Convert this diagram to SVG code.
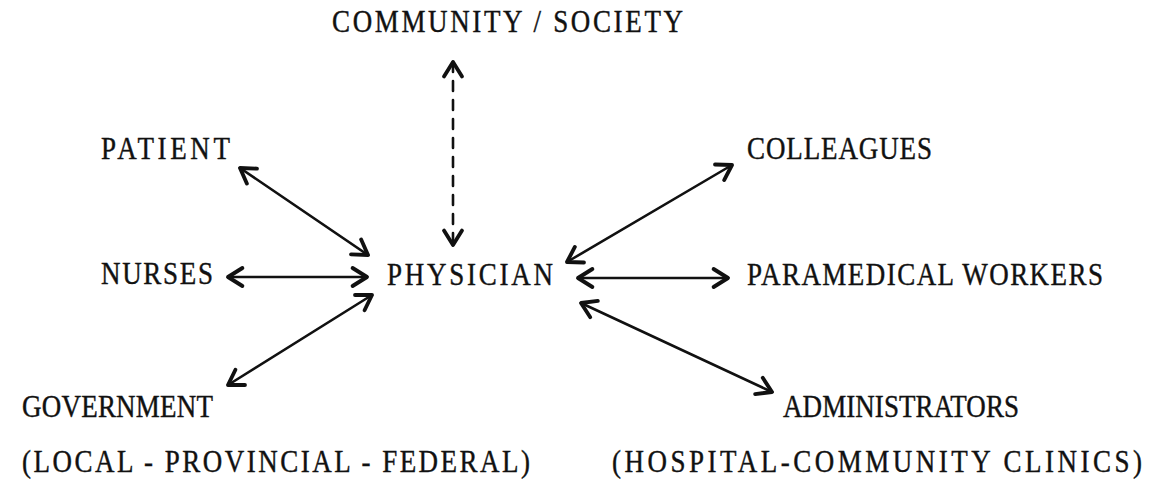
<svg xmlns="http://www.w3.org/2000/svg" width="1164" height="483" viewBox="0 0 1164 483">
  <style>
    /* tall, narrow typewriter-like lettering: serif face stretched vertically */
    .lbl { font-family: "Liberation Serif", "Times New Roman", serif; font-size: 27px; fill: #111; stroke: #111; stroke-width: 0.35; }
    .link { stroke: #111; stroke-width: 2.6; fill: none; stroke-linecap: round; }
    .dash { stroke-dasharray: 10 9; }
  </style>
  <defs>
    <marker id="head" markerUnits="userSpaceOnUse" markerWidth="24" markerHeight="24" viewBox="-14 -10 16 20" refX="0" refY="0" orient="auto-start-reverse">
      <path d="M -12 -7.5 L 0 0 L -12 7.5" fill="none" stroke="#111" stroke-width="3.2" stroke-linecap="round" stroke-linejoin="round"/>
    </marker>
  </defs>

  <rect width="1164" height="483" fill="#fff"/>

  <!-- connectors -->
  <g id="connectors">
    <line class="link dash" x1="453" y1="62" x2="453" y2="245" marker-start="url(#head)" marker-end="url(#head)"/>
    <line class="link" x1="240" y1="168" x2="368" y2="255" marker-start="url(#head)" marker-end="url(#head)"/>
    <line class="link" x1="228" y1="277" x2="367" y2="277" marker-start="url(#head)" marker-end="url(#head)"/>
    <line class="link" x1="372" y1="295" x2="228" y2="385" marker-start="url(#head)" marker-end="url(#head)"/>
    <line class="link" x1="732" y1="165" x2="567" y2="262" marker-start="url(#head)" marker-end="url(#head)"/>
    <line class="link" x1="578" y1="278" x2="728" y2="278" marker-start="url(#head)" marker-end="url(#head)"/>
    <line class="link" x1="581" y1="303" x2="772" y2="392" marker-start="url(#head)" marker-end="url(#head)"/>
  </g>

  <!-- nodes -->
  <g id="community"><text class="lbl" transform="translate(332,32) scale(1,1.15)" textLength="351" lengthAdjust="spacing">COMMUNITY / SOCIETY</text></g>
  <g id="patient"><text class="lbl" transform="translate(101,159) scale(1,1.15)" textLength="129" lengthAdjust="spacing">PATIENT</text></g>
  <g id="colleagues"><text class="lbl" transform="translate(747,159) scale(1,1.15)" textLength="185" lengthAdjust="spacing">COLLEAGUES</text></g>
  <g id="nurses"><text class="lbl" transform="translate(101,284) scale(1,1.15)" textLength="112" lengthAdjust="spacing">NURSES</text></g>
  <g id="physician"><text class="lbl" transform="translate(387,285) scale(1,1.15)" textLength="166" lengthAdjust="spacing">PHYSICIAN</text></g>
  <g id="paramedical"><text class="lbl" transform="translate(747,285) scale(1,1.15)" textLength="356" lengthAdjust="spacing">PARAMEDICAL WORKERS</text></g>
  <g id="government">
    <text class="lbl" transform="translate(22,417) scale(1,1.15)" textLength="191" lengthAdjust="spacing">GOVERNMENT</text>
    <text class="lbl" transform="translate(22,472) scale(1,1.15)" textLength="508" lengthAdjust="spacing">(LOCAL - PROVINCIAL - FEDERAL)</text>
  </g>
  <g id="administrators">
    <text class="lbl" transform="translate(783,417) scale(1,1.15)" textLength="236" lengthAdjust="spacing">ADMINISTRATORS</text>
    <text class="lbl" transform="translate(612,472) scale(1,1.15)" textLength="530" lengthAdjust="spacing">(HOSPITAL-COMMUNITY CLINICS)</text>
  </g>
</svg>
